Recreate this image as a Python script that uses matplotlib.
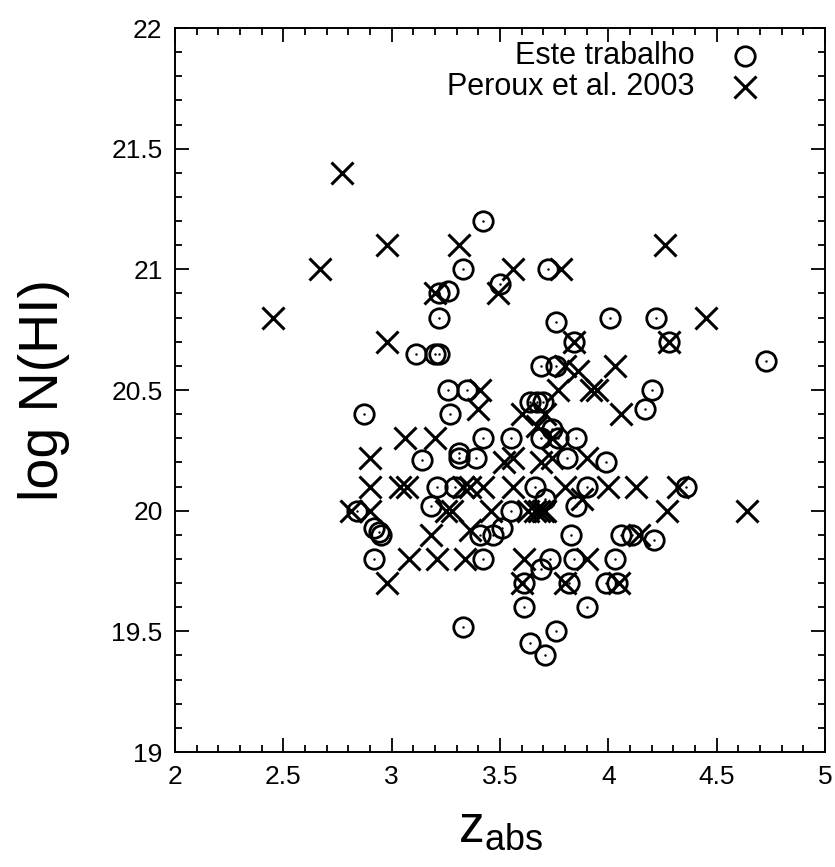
import numpy as np
import matplotlib
matplotlib.use("Agg")
import matplotlib.pyplot as plt
from matplotlib.ticker import MultipleLocator

plt.rcParams['font.family'] = ['Liberation Sans', 'DejaVu Sans']

# Este trabalho (circulos)
z_este = [3.42, 3.33, 3.72, 3.50, 3.26, 3.22, 3.22, 3.76, 4.01, 4.22, 4.73,
          3.11, 3.20, 3.22, 3.84, 4.28, 3.69, 3.76, 3.26, 3.35, 4.20, 4.17,
          3.27, 2.87, 3.64, 3.67, 3.70, 3.55, 3.42, 3.69, 3.74, 3.77, 3.85,
          3.14, 3.31, 3.31, 3.39, 3.81, 3.99, 3.21, 3.29, 3.66, 3.90, 4.36,
          2.84, 3.18, 3.55, 3.71, 3.85, 2.92, 2.94, 2.95, 3.41, 3.47, 3.51,
          3.83, 4.06, 4.11, 4.21, 2.92, 3.42, 3.73, 3.84, 4.03, 3.69, 3.61,
          3.82, 3.99, 4.04, 3.61, 3.90, 3.33, 3.76, 3.64, 3.71]
n_este = [21.20, 21.00, 21.00, 20.94, 20.91, 20.90, 20.80, 20.78, 20.80, 20.80, 20.62,
          20.65, 20.65, 20.65, 20.70, 20.70, 20.60, 20.60, 20.50, 20.50, 20.50, 20.42,
          20.40, 20.40, 20.45, 20.45, 20.45, 20.30, 20.30, 20.30, 20.34, 20.30, 20.30,
          20.21, 20.24, 20.22, 20.22, 20.22, 20.20, 20.10, 20.10, 20.10, 20.10, 20.10,
          20.00, 20.02, 20.00, 20.05, 20.02, 19.93, 19.91, 19.90, 19.90, 19.90, 19.93,
          19.90, 19.90, 19.90, 19.88, 19.80, 19.80, 19.80, 19.80, 19.80, 19.76, 19.70,
          19.70, 19.70, 19.70, 19.60, 19.60, 19.52, 19.50, 19.45, 19.40]

# Peroux et al. 2003 (cruzes)
z_peroux = [2.45, 2.67, 2.77, 2.98, 2.98, 3.31, 3.56, 3.78, 4.26, 4.45, 4.64,
            3.20, 3.49, 3.84, 4.28, 3.41, 3.92, 3.95, 4.03, 4.06, 3.06, 3.20,
            2.90, 2.90, 2.90, 2.81, 2.98, 3.08, 3.21, 3.34, 3.18, 3.04, 3.07,
            3.36, 3.42, 3.40, 3.28, 3.33, 3.36, 3.46, 3.56, 3.60, 3.56, 3.63,
            3.66, 3.68, 3.70, 3.71, 3.61, 3.60, 3.80, 3.90, 4.05, 3.80, 3.90,
            4.00, 4.13, 4.27, 4.32, 3.77, 3.80, 3.86, 3.74, 3.74, 4.14, 3.71,
            3.67, 3.52, 3.88, 3.25, 3.69]
n_peroux = [20.80, 21.00, 21.40, 21.10, 20.70, 21.10, 21.00, 21.00, 21.10, 20.80, 20.00,
            20.90, 20.90, 20.70, 20.70, 20.50, 20.50, 20.50, 20.60, 20.40, 20.30, 20.30,
            20.22, 20.10, 20.00, 20.00, 19.70, 19.80, 19.80, 19.80, 19.90, 20.10, 20.10,
            20.10, 20.10, 20.42, 20.00, 20.10, 19.92, 20.00, 20.10, 20.40, 20.22, 20.00,
            20.00, 20.00, 20.00, 20.00, 19.80, 19.70, 19.70, 19.80, 19.70, 20.10, 20.22,
            20.10, 20.10, 20.00, 20.10, 20.50, 20.60, 20.58, 20.30, 20.22, 19.90, 20.40,
            20.35, 20.20, 20.05, 20.00, 20.20]

fig = plt.figure(figsize=(8.35, 8.67), dpi=100)
ax = fig.add_axes([0.2096, 0.1326, 0.7784, 0.8351])

ax.plot(z_este, n_este, linestyle='none', marker='o', markersize=14,
        markerfacecolor='none', markeredgecolor='black', markeredgewidth=2)
ax.plot(z_este, n_este, linestyle='none', marker='.', markersize=1.5, color='black')
ax.plot(z_peroux, n_peroux, linestyle='none', marker='x', markersize=16,
        color='black', markeredgewidth=2.2)

ax.set_xlim(2, 5)
ax.set_ylim(19, 22)
ax.xaxis.set_major_locator(MultipleLocator(0.5))
ax.xaxis.set_minor_locator(MultipleLocator(0.1))
ax.yaxis.set_major_locator(MultipleLocator(0.5))
ax.yaxis.set_minor_locator(MultipleLocator(0.1))
ax.tick_params(which='both', direction='in', top=True, right=True, width=1.3)
ax.tick_params(which='major', length=10, labelsize=19, pad=9)
ax.tick_params(which='minor', length=5)
ax.xaxis.set_major_formatter(plt.FuncFormatter(lambda v, p: '%g' % v))
ax.yaxis.set_major_formatter(plt.FuncFormatter(lambda v, p: '%g' % v))
for s in ax.spines.values():
    s.set_linewidth(1.4)

ax.set_xlabel(r'$\mathregular{z_{abs}}$', fontsize=37, labelpad=11)
ax.set_ylabel('log N(HI)', fontsize=40, labelpad=30)

# legenda
ax.text(0.80, 0.961, 'Este trabalho', transform=ax.transAxes, ha='right',
        va='center', fontsize=22)
ax.text(0.80, 0.918, 'Peroux et al. 2003', transform=ax.transAxes, ha='right',
        va='center', fontsize=22)
ax.plot([0.877], [0.961], transform=ax.transAxes, marker='o', markersize=14,
        markerfacecolor='none', markeredgecolor='black', markeredgewidth=2)
ax.plot([0.877], [0.918], transform=ax.transAxes, marker='x', markersize=16,
        color='black', markeredgewidth=2.2)

fig.savefig('out.png', dpi=100)
